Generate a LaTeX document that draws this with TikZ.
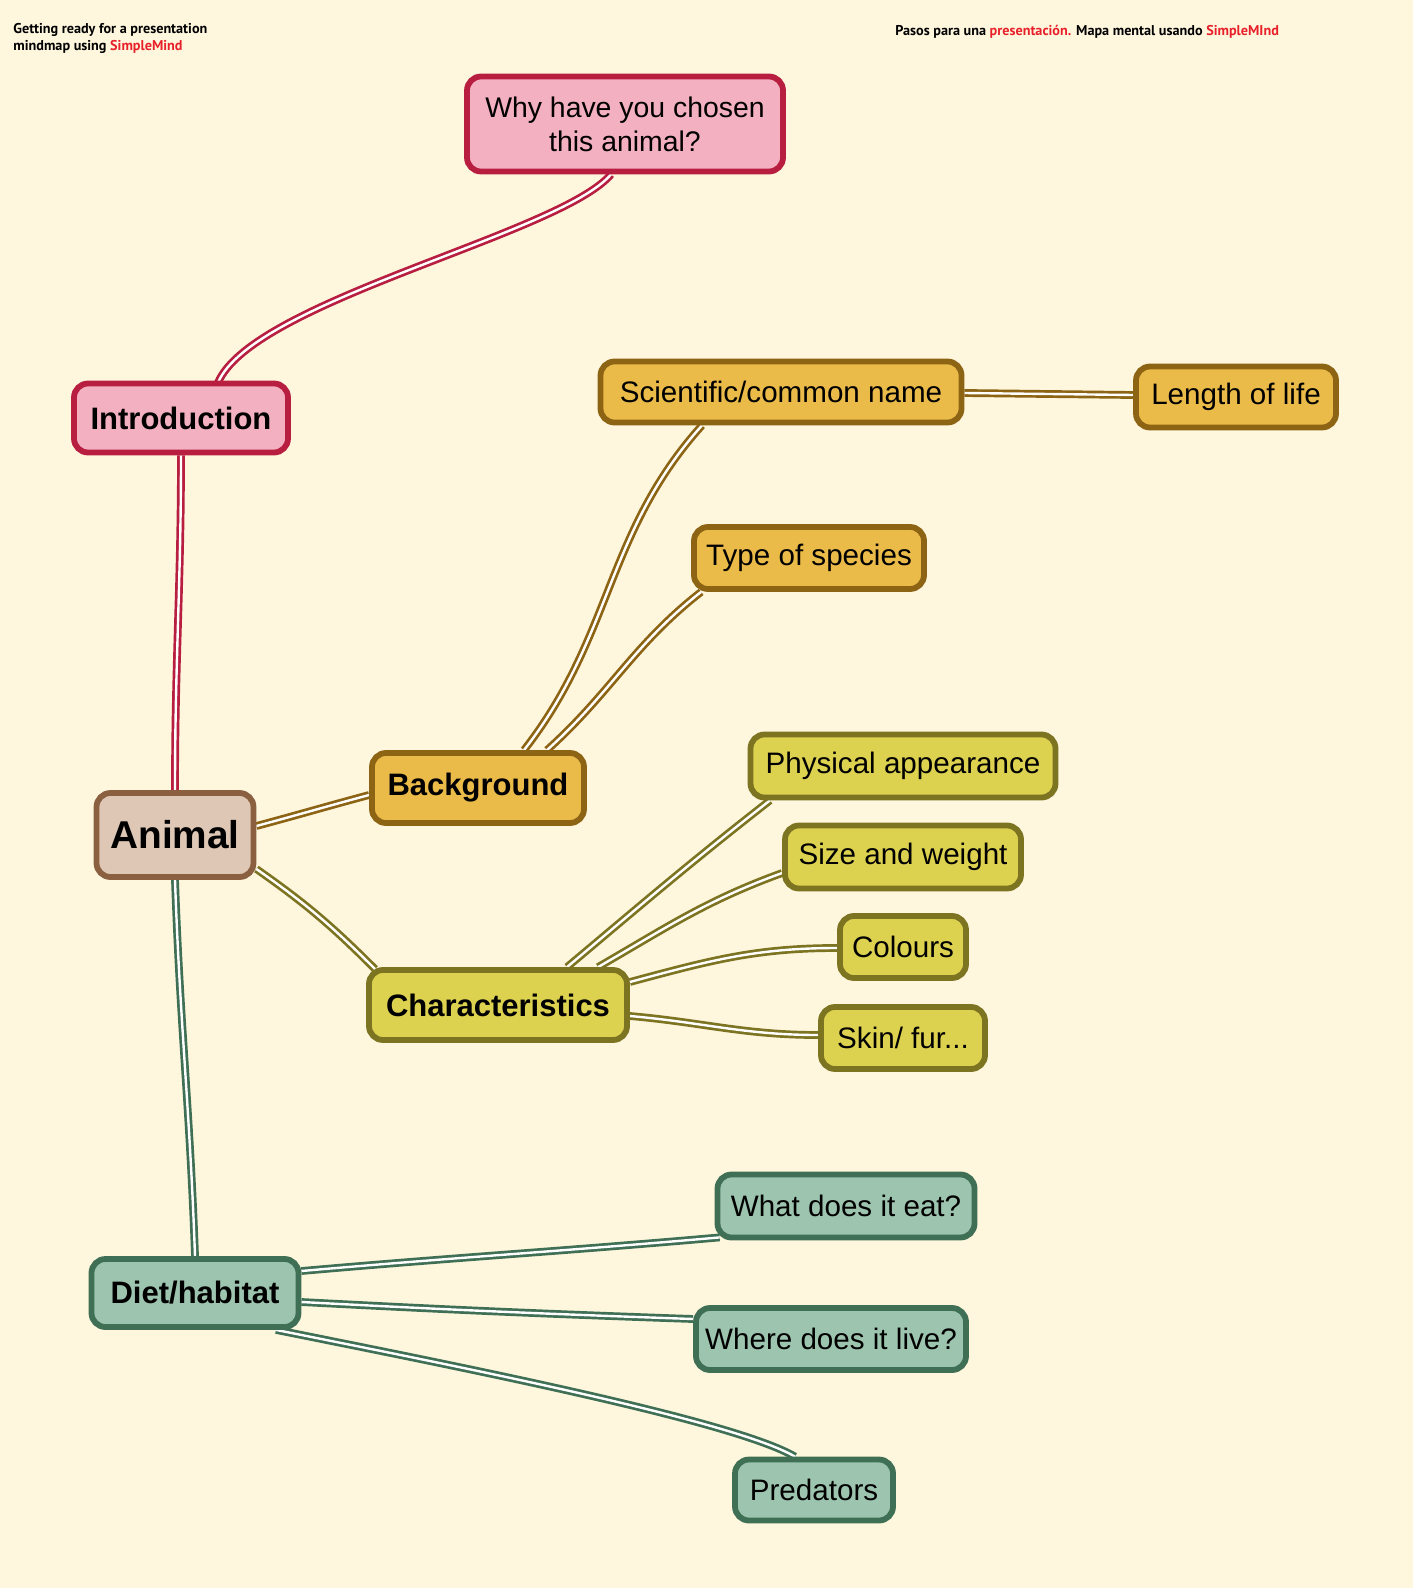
\documentclass[tikz,border=0pt]{standalone}
\usepackage{fontspec}
\setmainfont{Liberation Sans}
\newfontfamily\cornerfont{PT Sans}
\usetikzlibrary{calc}
\definecolor{cream}{HTML}{FEF7DE}
\definecolor{smred}{HTML}{E8202A}
\definecolor{pinkL}{HTML}{F2B0C0}
\definecolor{pinkD}{HTML}{B81E40}
\definecolor{brownL}{HTML}{DEC7B4}
\definecolor{brownD}{HTML}{8A6040}
\definecolor{orangeL}{HTML}{EBBB4A}
\definecolor{orangeD}{HTML}{8C6414}
\definecolor{yellowL}{HTML}{DDD150}
\definecolor{yellowD}{HTML}{7D7422}
\definecolor{greenL}{HTML}{9CC4AE}
\definecolor{greenD}{HTML}{3F6F55}
\pgfdeclarelayer{bg}\pgfdeclarelayer{edges}\pgfsetlayers{bg,edges,main}
\tikzset{
  box/.style={draw, line width=2.9pt, rounded corners=7pt, inner sep=0pt, align=center, text=black},
  leaftxt/.style={font=\fontsize{14.8}{17}\selectfont},
  branchtxt/.style={font=\bfseries\fontsize{15.5}{18}\selectfont},
  pinkbox/.style={box, draw=pinkD, fill=pinkL},
  brownbox/.style={box, draw=brownD, fill=brownL},
  orangebox/.style={box, draw=orangeD, fill=orangeL},
  yellowbox/.style={box, draw=yellowD, fill=yellowL},
  greenbox/.style={box, draw=greenD, fill=greenL},
  conn/.style={line width=1.35pt, double=white, double distance=1.2pt},
  cornertxt/.style={inner sep=0pt, font=\cornerfont\bfseries\fontsize{7.1}{8.6}\selectfont},
}
\begin{document}
\begin{tikzpicture}[x=0.5pt,y=-0.5pt]
\begin{pgfonlayer}{bg}
\fill[cream] (0,0) rectangle (1413,1588);
\end{pgfonlayer}
\useasboundingbox (0,0) rectangle (1413,1588);

% corner texts
\node[cornertxt, anchor=north west, align=left] (title) at (13,23)
  {Getting ready for a presentation\\mindmap using \textcolor{smred}{SimpleMind}};
\node[cornertxt, anchor=west] (titlees) at (895,32)
  {Pasos para una \textcolor{smred}{presentación.} Mapa mental usando \textcolor{smred}{SimpleMInd}};

% nodes
\node[pinkbox, font=\fontsize{14.2}{17}\selectfont, minimum width=158pt, minimum height=47.5pt] (why) at (625,124) {Why have you chosen\\this animal?};
\node[pinkbox, branchtxt, minimum width=107pt, minimum height=34.5pt] (intro) at (181,418) {Introduction};
\node[brownbox, font=\bfseries\fontsize{19.4}{22}\selectfont, minimum width=78.5pt, minimum height=42pt] (animal) at (175,835) {Animal};
\node[orangebox, branchtxt, minimum width=106pt, minimum height=35pt] (background) at (478,788) {Background};
\node[yellowbox, branchtxt, minimum width=129pt, minimum height=35pt] (char) at (498,1005) {Characteristics};
\node[greenbox, branchtxt, minimum width=103.5pt, minimum height=34pt] (diet) at (195,1293) {Diet/habitat};

\node[orangebox, leaftxt, minimum width=180.5pt, minimum height=30.5pt] (sci) at (781,392) {Scientific/common name};
\node[orangebox, leaftxt, minimum width=100pt, minimum height=30.5pt] (length) at (1236,397) {Length of life};
\node[orangebox, leaftxt, minimum width=115pt, minimum height=31pt] (type) at (809,558) {Type of species};

\node[yellowbox, leaftxt, minimum width=152.5pt, minimum height=31.5pt] (phys) at (903,766) {Physical appearance};
\node[yellowbox, leaftxt, minimum width=118pt, minimum height=31.5pt] (size) at (903,857) {Size and weight};
\node[yellowbox, leaftxt, minimum width=63pt, minimum height=31pt] (colours) at (903,947) {Colours};
\node[yellowbox, leaftxt, minimum width=82pt, minimum height=31pt] (skin) at (903,1038) {Skin/ fur...};

\node[greenbox, leaftxt, minimum width=128.5pt, minimum height=31.5pt] (what) at (846,1206) {What does it eat?};
\node[greenbox, leaftxt, minimum width=135pt, minimum height=31pt] (where) at (831,1339) {Where does it live?};
\node[greenbox, leaftxt, minimum width=79pt, minimum height=30.5pt] (pred) at (814,1490) {Predators};

% connectors
\begin{pgfonlayer}{edges}
\draw[conn, draw=pinkD] ($(why.south)+(-14,0)$) .. controls ($(why.south)+(-65,60)$) and ($(intro.north)+(72,-80)$) .. ($(intro.north)+(37,2)$);
\draw[conn, draw=pinkD] (intro.south) to[out=-90,in=90] (animal.north);
\draw[conn, draw=orangeD] ($(animal.east)+(0,-9)$) to[out=15,in=195] ($(background.west)+(0,7)$);
\draw[conn, draw=yellowD] ($(animal.east)+(0,34)$) to[out=-35,in=135] ($(char.north west)+(9,2)$);
\draw[conn, draw=greenD] (animal.south) to[out=-88,in=92] (diet.north);

\draw[conn, draw=orangeD] ($(background.north)+(46,0)$) to[out=52,in=228] ($(sci.south)+(-79,0)$);
\draw[conn, draw=orangeD] ($(background.north)+(69,0)$) to[out=42,in=218] ($(type.south west)+(10,0)$);
\draw[conn, draw=orangeD] ($(sci.east)+(0,1)$) -- ($(length.west)+(0,-2)$);

\draw[conn, draw=yellowD] ($(char.north)+(69,0)$) to[out=40,in=218] ($(phys.south)+(-133,0)$);
\draw[conn, draw=yellowD] ($(char.north)+(100,0)$) to[out=30,in=200] ($(size.west)+(0,16)$);
\draw[conn, draw=yellowD] ($(char.east)+(0,-23)$) to[out=15,in=180] ($(colours.west)+(0,1)$);
\draw[conn, draw=yellowD] ($(char.east)+(0,11)$) to[out=-5,in=180] ($(skin.west)+(0,-3)$);

\draw[conn, draw=greenD] ($(diet.east)+(0,-22)$) to[out=5,in=185] ($(what.south west)+(5,-3)$);
\draw[conn, draw=greenD] ($(diet.east)+(0,9)$) to[out=-3,in=178] ($(where.west)+(0,-20)$);
\draw[conn, draw=greenD] ($(diet.south)+(81,0)$) .. controls ($(diet.south)+(281,40)$) and ($(pred.north)+(-79,-35)$) .. ($(pred.north)+(-19,0)$);
\end{pgfonlayer}
\end{tikzpicture}
\end{document}
